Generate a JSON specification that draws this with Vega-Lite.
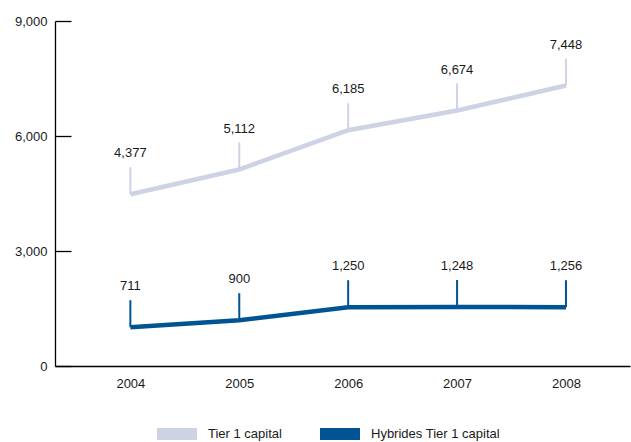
{
  "$schema": "https://vega.github.io/schema/vega-lite/v6.json",
  "width": 575,
  "height": 345,
  "autosize": {"type": "none"},
  "padding": {"left": 55, "top": 21, "right": 1, "bottom": 76},
  "background": "#ffffff",
  "config": {
    "view": {"stroke": null},
    "font": "Liberation Sans",
    "axis": {"labelFont": "Liberation Sans", "labelFontSize": 13, "labelColor": "#1a1a1a", "domainColor": "#000000", "domainWidth": 1.3, "tickColor": "#000000", "tickWidth": 1.3, "grid": false, "title": null}
  },
  "data": {
    "values": [
      {"year": 2004, "series": "Tier 1 capital", "value": 4482, "label": "4,377"},
      {"year": 2005, "series": "Tier 1 capital", "value": 5126, "label": "5,112"},
      {"year": 2006, "series": "Tier 1 capital", "value": 6151, "label": "6,185"},
      {"year": 2007, "series": "Tier 1 capital", "value": 6665, "label": "6,674"},
      {"year": 2008, "series": "Tier 1 capital", "value": 7317, "label": "7,448"},
      {"year": 2004, "series": "Hybrides Tier 1 capital", "value": 1012, "label": "711"},
      {"year": 2005, "series": "Hybrides Tier 1 capital", "value": 1195, "label": "900"},
      {"year": 2006, "series": "Hybrides Tier 1 capital", "value": 1534, "label": "1,250"},
      {"year": 2007, "series": "Hybrides Tier 1 capital", "value": 1540, "label": "1,248"},
      {"year": 2008, "series": "Hybrides Tier 1 capital", "value": 1534, "label": "1,256"}
    ]
  },
  "encoding": {
    "x": {
      "field": "year",
      "type": "quantitative",
      "scale": {"domain": [2003.308, 2008.588], "nice": false, "zero": false},
      "axis": {"values": [2004, 2005, 2006, 2007, 2008], "format": "d", "ticks": false, "tickSize": 0, "labelPadding": 11, "labelFlush": false}
    },
    "y": {
      "field": "value",
      "type": "quantitative",
      "scale": {"domain": [0, 9000], "nice": false},
      "axis": {"values": [0, 3000, 6000, 9000], "format": ",.0f", "tickSize": -16, "labelPadding": 24}
    }
  },
  "layer": [
    {
      "mark": {"type": "line", "strokeWidth": 4.5, "strokeCap": "butt", "strokeJoin": "miter"},
      "encoding": {
        "color": {
          "field": "series",
          "type": "nominal",
          "scale": {"domain": ["Tier 1 capital", "Hybrides Tier 1 capital"], "range": ["#CDD2E5", "#005494"]},
          "legend": {
            "title": null,
            "orient": "none",
            "legendX": 96,
            "legendY": 387,
            "direction": "horizontal",
            "symbolType": "stroke",
            "symbolSize": 1600,
            "symbolStrokeWidth": 12,
            "labelFont": "Liberation Sans",
            "labelFontSize": 13,
            "labelColor": "#1a1a1a",
            "labelOffset": 5,
            "columnPadding": 14
          }
        },
        "detail": {"field": "series"}
      }
    },
    {
      "mark": {"type": "rule", "strokeWidth": 2, "y2Offset": -27},
      "encoding": {
        "y2": {"field": "value"},
        "color": {"field": "series", "type": "nominal", "legend": null}
      }
    },
    {
      "mark": {"type": "text", "dy": -41, "baseline": "middle", "align": "center", "font": "Liberation Sans", "fontSize": 13, "color": "#1a1a1a"},
      "encoding": {
        "text": {"field": "label"}
      }
    }
  ]
}
